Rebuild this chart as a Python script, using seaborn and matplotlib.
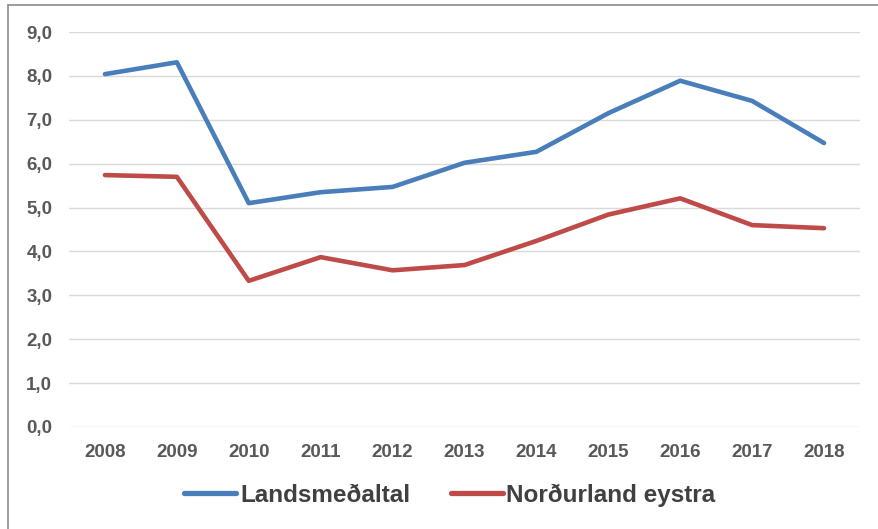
import matplotlib
matplotlib.use("Agg")
import matplotlib.pyplot as plt
from matplotlib.lines import Line2D
import seaborn as sns
import pandas as pd

years = [2008, 2009, 2010, 2011, 2012, 2013, 2014, 2015, 2016, 2017, 2018]
landsmedaltal = [8.04, 8.31, 5.10, 5.35, 5.47, 6.02, 6.27, 7.15, 7.89, 7.43, 6.47]
nordurland_eystra = [5.74, 5.70, 3.33, 3.87, 3.57, 3.69, 4.24, 4.84, 5.21, 4.60, 4.53]
series_names = ["Landsmeðaltal", "Norðurland eystra"]
y_ticks = [0, 1, 2, 3, 4, 5, 6, 7, 8, 9]

df = pd.DataFrame({
    "year": years * 2,
    "value": landsmedaltal + nordurland_eystra,
    "series": [series_names[0]] * len(years) + [series_names[1]] * len(years),
})

sns.set_theme(style="white")
fam = ["Liberation Sans", "DejaVu Sans"]
plt.rcParams["font.family"] = fam

fig = plt.figure(figsize=(8.79, 5.29), dpi=100)
ax = fig.add_axes([69 / 879, 1 - 427 / 529, (860 - 69) / 879, (427 - 32) / 529])

palette = {series_names[0]: "#4a7ebb", series_names[1]: "#be4b48"}
sns.lineplot(data=df, x="year", y="value", hue="series", palette=palette,
             linewidth=3.3, ax=ax, legend=False)

ax.set_xlim(years[0] - 0.5, years[-1] + 0.5)
ax.set_ylim(0, 9)
ax.set_yticks(y_ticks)
ax.set_yticklabels([f"{v:.1f}".replace(".", ",") for v in y_ticks])
ax.set_xticks(years)
ax.set_xticklabels([str(y) for y in years])
ax.grid(axis="y", color="#d9d9d9", linewidth=1)
ax.set_axisbelow(True)
for s in ax.spines.values():
    s.set_visible(False)
ax.set_xlabel("")
ax.set_ylabel("")
ax.tick_params(axis="both", length=0, labelsize=13.5, colors="#595959")
ax.tick_params(axis="y", pad=12)
ax.tick_params(axis="x", pad=12)
for lab in ax.get_xticklabels() + ax.get_yticklabels():
    lab.set_fontweight("bold")

handles = [Line2D([0], [0], color=palette[n], linewidth=3.8) for n in series_names]
leg = fig.legend(handles, series_names, loc="center", bbox_to_anchor=(450 / 879, 1 - 495 / 529),
                 ncol=2, frameon=False, handlelength=2.14, handletextpad=0.16, columnspacing=1.65,
                 borderpad=0, prop={"family": fam, "weight": "bold", "size": 17.5})
for t in leg.get_texts():
    t.set_color("#404040")

fig.add_artist(Line2D([8 / 879, 8 / 879], [0, 1 - 5 / 529], transform=fig.transFigure, color="#8c8c8c", linewidth=1.2))
fig.add_artist(Line2D([8 / 879, 1], [1 - 5 / 529, 1 - 5 / 529], transform=fig.transFigure, color="#8c8c8c", linewidth=1.2))

fig.savefig("out.png", dpi=100, facecolor="white")
